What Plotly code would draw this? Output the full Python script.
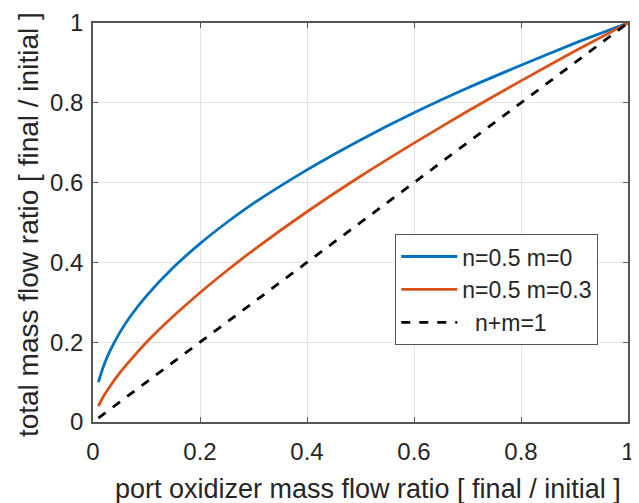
import plotly.graph_objects as go

# Values
x_vals = [0.01, 0.02, 0.03, 0.05, 0.07, 0.1, 0.15, 0.2, 0.25, 0.3, 0.4, 0.5, 0.6, 0.7, 0.8, 0.9, 1.0]
blue_vals = [0.10, 0.141, 0.173, 0.224, 0.265, 0.316, 0.387, 0.447, 0.50, 0.548, 0.632, 0.707, 0.775, 0.837, 0.894, 0.949, 1.0]
orange_vals = [0.040, 0.065, 0.086, 0.123, 0.155, 0.20, 0.265, 0.324, 0.379, 0.431, 0.527, 0.616, 0.699, 0.779, 0.855, 0.929, 1.0]
dash_x = [0.01, 1.0]
dash_y = [0.01, 1.0]
names = ["n=0.5 m=0", "n=0.5 m=0.3", "  n+m=1"]
tick_vals = [0, 0.2, 0.4, 0.6, 0.8, 1]
tick_text = ["0", "0.2", "0.4", "0.6", "0.8", "1"]
x_title = "port oxidizer mass flow ratio [ final / initial ]"
y_title = "total mass flow ratio [ final / initial ]"

fig = go.Figure()
fig.add_trace(go.Scatter(x=x_vals, y=blue_vals, mode="lines", name=names[0],
                         line=dict(color="#0072BD", width=2.8, shape="spline", smoothing=0.6)))
fig.add_trace(go.Scatter(x=x_vals, y=orange_vals, mode="lines", name=names[1],
                         line=dict(color="#D95319", width=2.8, shape="spline", smoothing=0.6)))
fig.add_trace(go.Scatter(x=dash_x, y=dash_y, mode="lines", name=names[2],
                         line=dict(color="black", width=2.8, dash="dash")))

axis_common = dict(
    range=[0, 1], tickvals=tick_vals, ticktext=tick_text,
    showgrid=True, gridcolor="#e3e3e3", gridwidth=1,
    showline=True, linecolor="#555555", linewidth=1.5, mirror="ticks",
    ticks="inside", ticklen=5, tickcolor="#555555",
    zeroline=False, automargin=False, ticklabeloverflow="allow",
    tickfont=dict(family="Liberation Sans, Arial", size=24, color="#262626"),
)

# the page body has an 8px margin, so the figure is sized to end at 639x503
fig.update_layout(
    width=631, height=495,
    margin=dict(l=85, r=11, t=15, b=81),
    paper_bgcolor="white", plot_bgcolor="white",
    font=dict(family="Liberation Sans, Arial", color="#262626"),
    xaxis=dict(**axis_common, ticklabelstandoff=7),
    yaxis=dict(**axis_common, ticklabelstandoff=3),
    legend=dict(x=0.565, y=0.471, xanchor="left", yanchor="top",
                bgcolor="white", bordercolor="#555555", borderwidth=1,
                font=dict(size=23, color="#262626"), tracegroupgap=0,
                itemwidth=56),
    showlegend=True,
    annotations=[
        dict(text=x_title, xref="paper", yref="paper", x=0.514, y=-0.168,
             xanchor="center", yanchor="middle", showarrow=False,
             font=dict(size=27, color="#262626")),
        dict(text=y_title, xref="paper", yref="paper", x=-0.1215, y=0.496,
             xanchor="center", yanchor="middle", showarrow=False, textangle=-90,
             font=dict(size=28, color="#262626")),
    ],
)

fig.write_html("out.html")
